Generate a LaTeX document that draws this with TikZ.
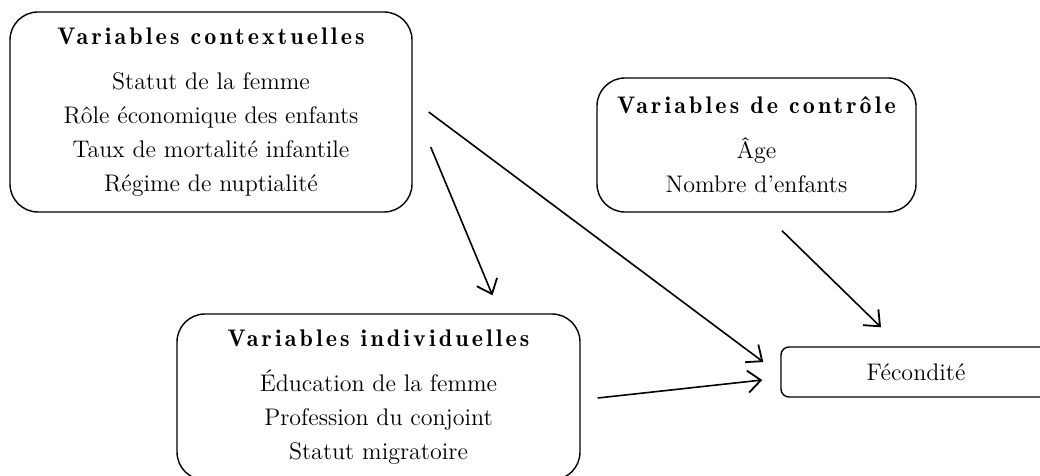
\documentclass[tikz,border=0pt]{standalone}
\usepackage{fontspec}
\newfontfamily\demifont{lmromandemi10-regular.otf}[LetterSpace=13]
\usetikzlibrary{arrows.meta,calc}
\tikzset{
  box/.style={draw, line width=0.7pt, rounded corners=14pt, align=center, inner sep=0pt,
    font=\fontsize{12}{17}\selectfont},
  smallbox/.style={box, rounded corners=4pt},
  arr/.style={line width=0.8pt, -{Straight Barb[length=6.5pt,width=11pt,line width=0.9pt]}}
}
\newcommand{\boxtitle}[1]{{\demifont\fontsize{12}{17}\selectfont #1}\\[5.5pt]}
\begin{document}
\begin{tikzpicture}[x=0.5pt,y=-0.5pt]
\useasboundingbox (0,0) rectangle (1040,476);
\clip (0,0) rectangle (1040,476);
\node[box, minimum width=201pt, minimum height=100pt] (ctx) at (211,112)
  {\boxtitle{Variables contextuelles}Statut de la femme\\ Rôle économique des enfants\\ Taux de mortalité infantile\\ Régime de nuptialité};
\node[box, minimum width=159.5pt, minimum height=67pt] (ctl) at (756.5,145)
  {\boxtitle{Variables de contrôle}Âge\\ Nombre d’enfants};
\node[box, minimum width=201.5pt, minimum height=83pt] (ind) at (378.5,397)
  {\boxtitle{Variables individuelles}Éducation de la femme\\ Profession du conjoint\\ Statut migratoire};
\node[smallbox, minimum width=135pt, minimum height=25pt] (fec) at (916,372) {Fécondité};
\coordinate (a1s) at ($(ctx.east)+(16,0)$);
\coordinate (a1e) at ($(fec.west)+(-17,-10)$);
\coordinate (a2s) at ($(ctx.east)+(18,35)$);
\coordinate (a2e) at ($(ind.north)+(114,-18)$);
\coordinate (a3s) at ($(ctl.south)+(25.5,18)$);
\coordinate (a3e) at ($(fec.north)+(-35,-19)$);
\coordinate (a4s) at ($(ind.east)+(17,1)$);
\coordinate (a4e) at ($(fec.west)+(-18,8)$);
\draw[arr] (a1s) -- (a1e);
\draw[arr] (a2s) -- (a2e);
\draw[arr] (a3s) -- (a3e);
\draw[arr] (a4s) -- (a4e);
\end{tikzpicture}
\end{document}
